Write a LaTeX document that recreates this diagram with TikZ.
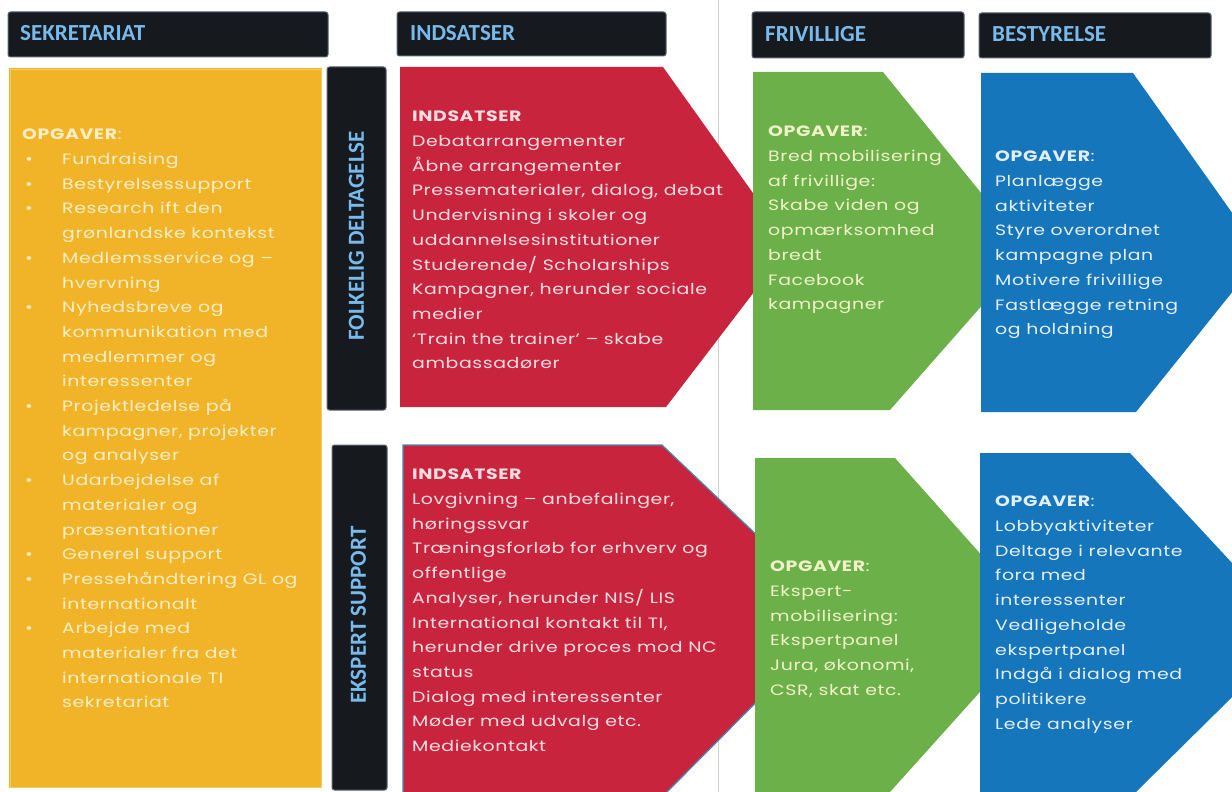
\documentclass[tikz,border=0pt]{standalone}
\usepackage{fontspec}
\setmainfont{Poppins}[FakeStretch=1.26, LetterSpace=4]
\newfontfamily\hdrfont{Carlito}
\definecolor{cyel}{RGB}{241,180,40}
\definecolor{cred}{RGB}{200,36,62}
\definecolor{cgrn}{RGB}{108,176,74}
\definecolor{cblu}{RGB}{22,118,188}
\definecolor{cbar}{RGB}{22,26,30}
\definecolor{cbarline}{RGB}{90,100,110}
\definecolor{chdr}{RGB}{120,186,236}
\definecolor{tyel}{RGB}{253,238,200}
\definecolor{tred}{RGB}{252,222,226}
\definecolor{tgrn}{RGB}{240,242,200}
\definecolor{tblu}{RGB}{228,238,250}
\definecolor{cedge}{RGB}{70,140,180}
\newcommand\bul{\hspace*{3pt}\makebox[37pt][l]{•}}
\newcommand\ind{\hspace*{40pt}}
\tikzset{
  hdrbar/.style={draw=cbarline, line width=1pt, fill=cbar, rounded corners=2.5pt, inner sep=0pt},
  hdrtext/.style={font=\hdrfont\bfseries\fontsize{23}{23}\selectfont, text=chdr, inner sep=0pt, anchor=west},
  vbartext/.style={font=\hdrfont\bfseries\fontsize{23}{23}\selectfont, text=chdr, inner sep=0pt, rotate=90},
  body/.style={font=\fontsize{15}{24.7}\selectfont, align=left, inner sep=0pt, anchor=north west},
}
\begin{document}
\begin{tikzpicture}[x=1pt,y=-1pt]
\useasboundingbox (0,0) rectangle (1232,792);
\clip (0,0) rectangle (1232,792);
\fill[white] (0,0) rectangle (1232,792);
% faint separator line
\draw[black!18, line width=0.8pt] (718,0) -- (718,792);

% header bars
\node[hdrbar, minimum width=320pt, minimum height=45pt] (hsek) at (168,34.5) {};
\node[hdrtext] (tsek) at (20,33.5) {SEKRETARIAT};
\node[hdrbar, minimum width=269pt, minimum height=44pt] (hind) at (531.5,34) {};
\node[hdrtext] (tind) at (410,33.5) {INDSATSER};
\node[hdrbar, minimum width=212pt, minimum height=46pt] (hfri) at (858,35) {};
\node[hdrtext] (tfri) at (765,34) {FRIVILLIGE};
\node[hdrbar, minimum width=232pt, minimum height=45pt] (hbes) at (1095,35.5) {};
\node[hdrtext] (tbes) at (992,34) {BESTYRELSE};

% yellow box
\fill[cyel] (9,68) rectangle (322,788);
\draw[cyel!70!white, line width=0.8pt] (10,69) rectangle (321,787);

% vertical bars
\node[hdrbar, minimum width=59pt, minimum height=343pt] (vb1) at (356.5,238.5) {};
\node[vbartext] (tvb1) at (356.5,236) {FOLKELIG DELTAGELSE};
\node[hdrbar, minimum width=55pt, minimum height=345pt] (vb2) at (359.5,617.5) {};
\node[vbartext] (tvb2) at (358.5,615) {EKSPERT SUPPORT};

% top row shapes
\fill[cred] (400,67) -- (663,67) -- (790,245) -- (666,407) -- (400,407) -- cycle;
\fill[cgrn] (753,72) -- (883,72) -- (1029,252) -- (890,410) -- (753,410) -- cycle;
\fill[cblu] (981,73) -- (1133,73) -- (1262,255) -- (1136,412) -- (981,412) -- cycle;

% bottom row shapes
\fill[cred] (403,445) -- (662,445) -- (842,616) -- (667,792) -- (403,792) -- cycle;
\draw[cedge, line width=1.2pt] (403,792) -- (403,445) -- (662,445) -- (842,616) -- (667,792);
\fill[cgrn] (755,458) -- (895,458) -- (1042,623) -- (890,792) -- (755,792) -- cycle;
\fill[cblu] (980,453) -- (1130,453) -- (1297,633) -- (1136,792) -- (980,792) -- cycle;

% texts
\node[body, text=tyel] (tyelbox) at (22,129) {%
\textbf{OPGAVER}:\\
\bul Fundraising\\
\bul Bestyrelsessupport\\
\bul Research ift den\\
\ind grønlandske kontekst\\
\bul Medlemsservice og –\\
\ind hvervning\\
\bul Nyhedsbreve og\\
\ind kommunikation med\\
\ind medlemmer og\\
\ind interessenter\\
\bul Projektledelse på\\
\ind kampagner, projekter\\
\ind og analyser\\
\bul Udarbejdelse af\\
\ind materialer og\\
\ind præsentationer\\
\bul Generel support\\
\bul Pressehåndtering GL og\\
\ind internationalt\\
\bul Arbejde  med\\
\ind materialer fra det\\
\ind internationale TI\\
\ind sekretariat};

\node[body, text=tred] (tredtop) at (412,111) {%
\textbf{INDSATSER}\\
Debatarrangementer\\
Åbne arrangementer\\
Pressematerialer, dialog, debat\\
Undervisning i skoler og\\
uddannelsesinstitutioner\\
Studerende/ Scholarships\\
Kampagner, herunder sociale\\
medier\\
‘Train the trainer’ – skabe\\
ambassadører};

\node[body, text=tred] (tredbot) at (412,469) {%
\textbf{INDSATSER}\\
Lovgivning – anbefalinger,\\
høringssvar\\
Træningsforløb  for erhverv og\\
offentlige\\
Analyser, herunder NIS/ LIS\\
International kontakt til TI,\\
herunder drive proces mod NC\\
status\\
Dialog med interessenter\\
Møder med udvalg etc.\\
Mediekontakt};

\node[body, text=tgrn] (tgrntop) at (768,126) {%
\textbf{OPGAVER}:\\
Bred mobilisering\\
af frivillige:\\
Skabe viden og\\
opmærksomhed\\
bredt\\
Facebook\\
kampagner};

\node[body, text=tblu] (tblutop) at (995,151) {%
\textbf{OPGAVER}:\\
Planlægge\\
aktiviteter\\
Styre overordnet\\
kampagne plan\\
Motivere frivillige\\
Fastlægge retning\\
og holdning};

\node[body, text=tgrn] (tgrnbot) at (770,561) {%
\textbf{OPGAVER}:\\
Ekspert-\\
mobilisering:\\
Ekspertpanel\\
Jura, økonomi,\\
CSR, skat etc.};

\node[body, text=tblu] (tblubot) at (995,496) {%
\textbf{OPGAVER}:\\
Lobbyaktiviteter\\
Deltage i relevante\\
fora med\\
interessenter\\
Vedligeholde\\
ekspertpanel\\
Indgå i dialog med\\
politikere\\
Lede analyser};
\end{tikzpicture}
\end{document}
